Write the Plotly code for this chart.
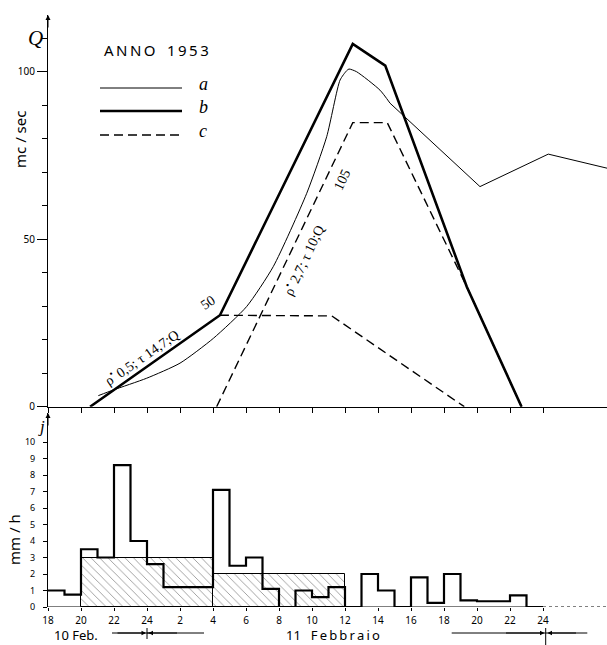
import plotly.graph_objects as go

# ---------------- data ----------------
# hours counted from 10 Feb 00:00 (18 = 10 Feb 18h, 48 = 11 Feb 24h)
a_curve_hours = [21.05, 21.96, 23.98, 26.0, 28.02, 30.04, 31.65, 33.68, 34.89, 35.7, 36.1, 36.24, 36.7, 38.12, 38.73]
a_curve_q = [3.3, 5.0, 8.5, 13.0, 20.4, 29.9, 41.8, 63.7, 80.6, 97.5, 100.3, 100.8, 100.0, 94.5, 90.6]
a_tail_hours = [38.73, 44.18, 48.32, 51.88]
a_tail_q = [90.6, 65.7, 75.4, 71.2]

b_hours = [20.55, 28.42, 36.47, 38.44, 43.38, 46.7]
b_q = [0, 27.3, 108.3, 101.8, 35.8, 0]

c1_hours = [28.22, 36.47, 38.56, 43.38, 46.7]
c1_q = [0, 84.8, 84.8, 35.8, 0]
c2_hours = [28.42, 35.2, 43.23]
c2_q = [27.3, 27.1, 0]

rain_hours = list(range(18, 49))
rain_total = [1.0, 0.75, 3.5, 3.0, 8.6, 4.0, 2.6, 1.2, 1.2, 1.2,
              7.1, 2.5, 3.0, 1.1, 0.0, 1.0, 0.6, 1.2, 0.0, 2.0,
              1.0, 0.0, 1.8, 0.25, 2.0, 0.4, 0.35, 0.35, 0.7, 0.0, 0.0]

eff_centers = [24, 32]
eff_widths = [8, 8]
eff_values = [3.0, 2.0]

x_tick_vals = list(range(18, 49, 2))
x_tick_text = ["18", "20", "22", "24", "2", "4", "6", "8", "10", "12", "14", "16", "18", "20", "22", "24"]

q_tick_vals = [0, 50, 100]
q_tick_text = ["0", "50", "100"]
i_tick_vals = list(range(0, 11))
i_tick_text = [str(v) for v in i_tick_vals]

# ---------------- figure ----------------
W, H = 607, 645
L, R, T, B = 48, 0, 15, 38
XMAX = 18 + (W - L - R) / 16.5
plot_h = H - T - B
top_dom = [(607 - 406.7) / plot_h, 1.0]
bot_dom = [0.0, (607 - 413) / plot_h]
QMAX = (406.7 - 15) / 3.35
IMAX = (607 - 413) / 16.5

def py(pix):  # pixel y -> paper y
    return (607 - pix) / plot_h

def px(pix):  # pixel x -> paper x
    return (pix - L) / (W - L - R)

fig = go.Figure()

thin = dict(color="black", width=1)
thick = dict(color="black", width=2.6)
dashed = dict(color="black", width=1.4, dash="9px,5px")

fig.add_trace(go.Scatter(x=a_curve_hours, y=a_curve_q, mode="lines",
                         line=dict(color="black", width=1, shape="spline", smoothing=0.6),
                         xaxis="x", yaxis="y", showlegend=False, hoverinfo="skip"))
fig.add_trace(go.Scatter(x=a_tail_hours, y=a_tail_q, mode="lines", line=thin,
                         xaxis="x", yaxis="y", showlegend=False, hoverinfo="skip"))
fig.add_trace(go.Scatter(x=c1_hours, y=c1_q, mode="lines", line=dashed,
                         xaxis="x", yaxis="y", showlegend=False, hoverinfo="skip"))
fig.add_trace(go.Scatter(x=c2_hours, y=c2_q, mode="lines", line=dashed,
                         xaxis="x", yaxis="y", showlegend=False, hoverinfo="skip"))
fig.add_trace(go.Scatter(x=b_hours, y=b_q, mode="lines", line=thick,
                         xaxis="x", yaxis="y", showlegend=False, hoverinfo="skip"))

fig.add_trace(go.Bar(x=eff_centers, y=eff_values, width=eff_widths,
                     marker=dict(color="white",
                                 pattern=dict(shape="\\", fgcolor="black", bgcolor="white",
                                              size=6, solidity=0.12),
                                 line=dict(color="black", width=1)),
                     xaxis="x2", yaxis="y2", showlegend=False, hoverinfo="skip"))
fig.add_trace(go.Scatter(x=rain_hours, y=rain_total, mode="lines",
                         line=dict(color="black", width=2.2, shape="hv"),
                         xaxis="x2", yaxis="y2", showlegend=False, hoverinfo="skip"))

tickfont = dict(family="Noto Sans", size=10, color="black")

fig.update_layout(
    width=W, height=H,
    margin=dict(l=L, r=R, t=T, b=B, autoexpand=False),
    paper_bgcolor="white", plot_bgcolor="white",
    bargap=0,
    xaxis=dict(domain=[0, 1], anchor="y", range=[18, XMAX], showline=True,
               linecolor="black", linewidth=1, ticks="outside", ticklen=5,
               tickcolor="black", tickvals=x_tick_vals, showticklabels=False,
               showgrid=False, zeroline=False, automargin=False),
    yaxis=dict(domain=top_dom, anchor="x", range=[0, QMAX], showline=True,
               linecolor="black", linewidth=1, ticks="outside", ticklen=10,
               tickcolor="black", tickvals=q_tick_vals, ticktext=q_tick_text,
               tickfont=tickfont, showgrid=False, zeroline=False, automargin=False,
               minor=dict(dtick=10, ticks="outside", ticklen=5, tickcolor="black")),
    xaxis2=dict(domain=[0, 1], anchor="y2", range=[18, XMAX], showline=False,
                ticks="outside", ticklen=3, tickcolor="black", ticklabelstandoff=1,
                tickvals=x_tick_vals, ticktext=x_tick_text, tickfont=tickfont,
                showgrid=False, zeroline=False, automargin=False),
    yaxis2=dict(domain=bot_dom, anchor="x2", range=[0, IMAX], showline=True,
                linecolor="black", linewidth=1, ticks="outside", ticklen=4,
                tickcolor="black", tickvals=i_tick_vals, ticktext=i_tick_text,
                ticklabelstandoff=6,
                tickfont=dict(family="Noto Sans", size=9, color="black"),
                showgrid=False, zeroline=False, automargin=False),
)

shapes = []
shapes.append(dict(type="line", xref="x2", yref="y2", x0=18, x1=48, y0=0, y1=0,
                   line=dict(color="black", width=1.2)))
shapes.append(dict(type="line", xref="x2", yref="y2", x0=48, x1=XMAX, y0=0, y1=0,
                   line=dict(color="black", width=1, dash="dot")))
shapes.append(dict(type="line", xref="paper", yref="paper", x0=px(100), x1=px(182),
                   y0=py(88), y1=py(88), line=thin))
shapes.append(dict(type="line", xref="paper", yref="paper", x0=px(100), x1=px(182),
                   y0=py(111), y1=py(111), line=thick))
shapes.append(dict(type="line", xref="paper", yref="paper", x0=px(100), x1=px(183),
                   y0=py(135), y1=py(135), line=dashed))
for x0, x1 in [(112, 151.7), (147, 204), (451.7, 545.7), (545.7, 587.3)]:
    shapes.append(dict(type="line", xref="paper", yref="paper", x0=px(x0), x1=px(x1),
                       y0=py(633), y1=py(633), line=dict(color="black", width=1)))
shapes.append(dict(type="line", xref="paper", yref="paper", x0=px(147), x1=px(147),
                   y0=py(628), y1=py(639), line=dict(color="black", width=1)))
shapes.append(dict(type="line", xref="paper", yref="paper", x0=px(545.7), x1=px(545.7),
                   y0=py(628), y1=py(645), line=dict(color="black", width=1)))
fig.update_layout(shapes=shapes)

ann = []
serif = "Liberation Serif"
C = dict(xanchor="center", yanchor="middle", showarrow=False)
ann.append(dict(x=18, y=QMAX, xref="x", yref="y", ax=0, ay=14, showarrow=True,
                arrowhead=2, arrowsize=1, arrowwidth=1, arrowcolor="black", text=""))
ann.append(dict(x=18, y=IMAX, xref="x2", yref="y2", ax=0, ay=14, showarrow=True,
                arrowhead=2, arrowsize=1, arrowwidth=1, arrowcolor="black", text=""))
for head, dx in [(146, -30), (148.5, 30), (544.5, -40), (547.5, 30)]:
    ann.append(dict(x=px(head), y=py(633), xref="paper", yref="paper", ax=dx, ay=0,
                    showarrow=True, arrowhead=2, arrowsize=0.9, arrowwidth=1,
                    arrowcolor="black", text=""))
ann.append(dict(x=px(35), y=py(38), xref="paper", yref="paper", **C,
                text="<i>Q</i>", font=dict(family=serif, size=21, color="black")))
ann.append(dict(x=px(20), y=py(140), xref="paper", yref="paper", **C,
                text="mc / sec", textangle=-90,
                font=dict(family="Noto Sans", size=15, color="black")))
ann.append(dict(x=px(41), y=py(426), xref="paper", yref="paper", **C,
                text="<i>j</i>", font=dict(family=serif, size=17, color="black")))
ann.append(dict(x=px(14), y=py(540), xref="paper", yref="paper", **C,
                text="mm / h", textangle=-90,
                font=dict(family="Noto Sans", size=15, color="black")))
ann.append(dict(x=px(156), y=py(50), xref="paper", yref="paper", **C,
                text="A\u2009N\u2009N\u2009O\u2002 1\u20099\u20095\u20093",
                font=dict(family="Noto Sans", size=15, color="black")))
for lab, yy in [("a", 84), ("b", 107), ("c", 131)]:
    ann.append(dict(x=px(203), y=py(yy), xref="paper", yref="paper", **C,
                    text="<i>%s</i>" % lab, font=dict(family=serif, size=18, color="black")))
ann.append(dict(x=px(76), y=py(635), xref="paper", yref="paper", **C,
                text="10 Feb.", font=dict(family="Noto Sans", size=13, color="black")))
ann.append(dict(x=px(333), y=py(635), xref="paper", yref="paper", **C,
                text="11\u2002 F\u2009e\u2009b\u2009b\u2009r\u2009a\u2009i\u2009o",
                font=dict(family="Noto Sans", size=13, color="black")))
ann.append(dict(x=23.62, y=14.9, xref="x", yref="y", **C, textangle=-34.7,
                text="ρ<sup>•</sup> 0,5; τ 14,7;Q",
                font=dict(family=serif, size=14, color="black")))
ann.append(dict(x=27.71, y=31.0, xref="x", yref="y", **C, textangle=-34.7,
                text="50", font=dict(family=serif, size=14, color="black")))
ann.append(dict(x=33.45, y=43.8, xref="x", yref="y", **C, textangle=-64.7,
                text="ρ<sup>•</sup> 2,7; τ 10;Q",
                font=dict(family=serif, size=14, color="black")))
ann.append(dict(x=35.85, y=67.7, xref="x", yref="y", **C, textangle=-64.7,
                text="105", font=dict(family=serif, size=14, color="black")))
fig.update_layout(annotations=ann)

fig.write_html("out.html", config={"displayModeBar": False},
               post_script="document.body.style.margin='0px';")
